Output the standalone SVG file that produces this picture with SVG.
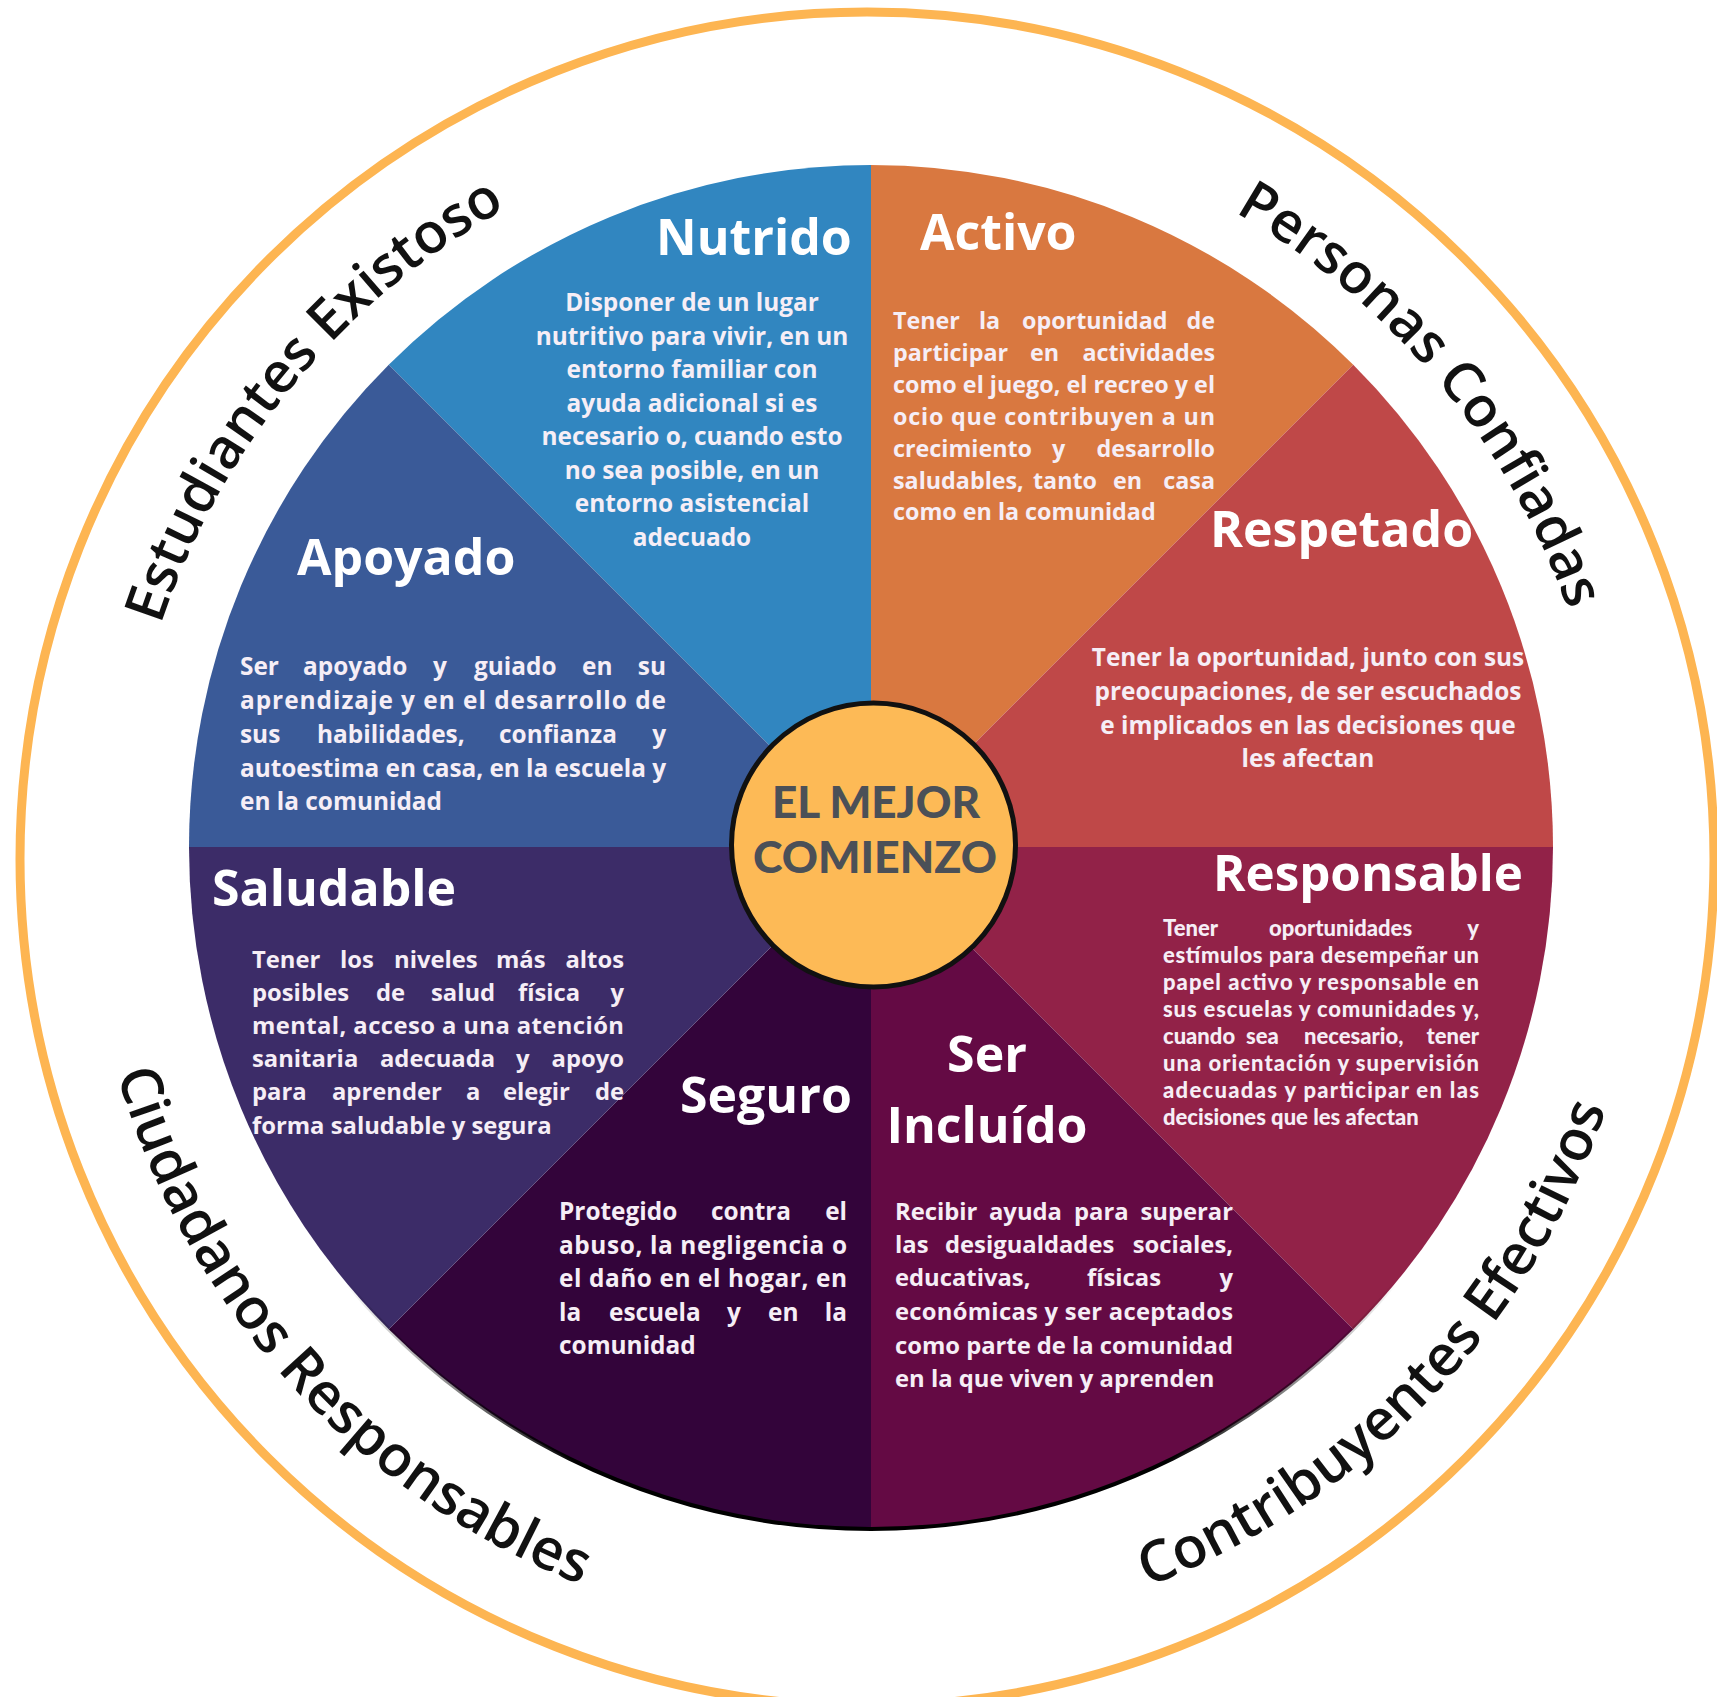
<svg xmlns="http://www.w3.org/2000/svg" width="1717" height="1697" viewBox="0 0 1717 1697">
<defs>
<style>
.t{font-family:"Open Sans","DejaVu Sans",sans-serif;font-weight:700;font-size:50px;fill:#ffffff}
.b{font-family:"Open Sans","DejaVu Sans",sans-serif;font-weight:700;font-size:24.4px;fill:#f6eef6}
.bs{font-size:23.3px}
.bm{font-size:23.8px}
.br{font-family:Lato,"Open Sans",sans-serif;font-weight:900;font-size:22px;fill:#f6eef6}
.e{text-anchor:end}
.m{text-anchor:middle}
.c{font-family:"Open Sans","DejaVu Sans",sans-serif;font-weight:600;font-size:56px;fill:#111111}
.cb{font-size:57px}
.ctr{font-family:Lato,"Open Sans",sans-serif;font-weight:900;font-size:43px;fill:#4b5057}
</style>
<path id="arcTop" d="M 123,859 A 744,744 0 0 1 1611,859"/>
<path id="arcBot" d="M 87,859 A 780,780 0 0 0 1647,859"/>
<linearGradient id="shade" gradientUnits="userSpaceOnUse" x1="345" y1="0" x2="1397" y2="0">
<stop offset="0" stop-color="#000" stop-opacity="0"/>
<stop offset="0.22" stop-color="#000" stop-opacity="1"/>
<stop offset="0.78" stop-color="#000" stop-opacity="1"/>
<stop offset="1" stop-color="#000" stop-opacity="0"/>
</linearGradient>
</defs>
<rect width="1717" height="1697" fill="#ffffff"/>

<g id="outer-ring">
<circle cx="867" cy="859" r="847" fill="none" stroke="#fdb552" stroke-width="9"/>
</g>

<g id="ring-labels">
<text class="c"><textPath href="#arcTop" startOffset="238">Estudiantes Existoso</textPath></text>
<text class="c"><textPath href="#arcTop" startOffset="1553">Personas Confiadas</textPath></text>
<text class="c cb"><textPath href="#arcBot" startOffset="217">Ciudadanos Responsables</textPath></text>
<text class="c cb"><textPath href="#arcBot" startOffset="1512">Contribuyentes Efectivos</textPath></text>
</g>

<g id="nutrido">
<path d="M 871,847 L 388.75,364.75 A 682,682 0 0 1 871,165 Z" fill="#3186c0"/>
<text class="t" x="656" y="255">Nutrido</text>
<g class="b m">
<text x="692" y="311">Disponer de un lugar</text>
<text x="692" y="344.5">nutritivo para vivir, en un</text>
<text x="692" y="378">entorno familiar con</text>
<text x="692" y="411.5">ayuda adicional si es</text>
<text x="692" y="445">necesario o, cuando esto</text>
<text x="692" y="478.5">no sea posible, en un</text>
<text x="692" y="512">entorno asistencial</text>
<text x="692" y="545.5">adecuado</text>
</g>
</g>

<g id="activo">
<path d="M 871,847 L 871,165 A 682,682 0 0 1 1353.25,364.75 Z" fill="#d97840"/>
<text class="t" x="920" y="250">Activo</text>
<g class="b bs">
<text x="893" y="329">Tener</text><text x="979" y="329">la</text><text x="1022" y="329">oportunidad</text><text class="e" x="1215" y="329">de</text>
<text x="893" y="361">participar</text><text x="1030" y="361">en</text><text class="e" x="1215" y="361">actividades</text>
<text x="893" y="393" textLength="322" lengthAdjust="spacing">como el juego, el recreo y el</text>
<text x="893" y="425" textLength="322" lengthAdjust="spacing">ocio que contribuyen a un</text>
<text x="893" y="457">crecimiento</text><text x="1052" y="457">y</text><text class="e" x="1215" y="457">desarrollo</text>
<text x="893" y="489">saludables,</text><text x="1033" y="489">tanto</text><text x="1113" y="489">en</text><text class="e" x="1215" y="489">casa</text>
<text x="893" y="520">como en la comunidad</text>
</g>
</g>

<g id="respetado">
<path d="M 871,847 L 1353.25,364.75 A 682,682 0 0 1 1553,847 Z" fill="#bf4848"/>
<text class="t" x="1210" y="547">Respetado</text>
<g class="b m">
<text x="1308" y="666">Tener la oportunidad, junto con sus</text>
<text x="1308" y="700">preocupaciones, de ser escuchados</text>
<text x="1308" y="734">e implicados en las decisiones que</text>
<text x="1308" y="767">les afectan</text>
</g>
</g>

<g id="responsable">
<path d="M 871,847 L 1553,847 A 682,682 0 0 1 1353.25,1329.25 Z" fill="#922248"/>
<text class="t" x="1213" y="891" style="font-size:49.3px">Responsable</text>
<g class="br">
<text x="1163" y="936">Tener</text><text x="1269" y="936">oportunidades</text><text class="e" x="1479" y="936">y</text>
<text x="1163" y="963" textLength="316" lengthAdjust="spacing">estímulos para desempeñar un</text>
<text x="1163" y="990" textLength="316" lengthAdjust="spacing">papel activo y responsable en</text>
<text x="1163" y="1017" textLength="316" lengthAdjust="spacing">sus escuelas y comunidades y,</text>
<text x="1163" y="1044">cuando</text><text x="1246" y="1044">sea</text><text x="1304" y="1044">necesario,</text><text class="e" x="1479" y="1044">tener</text>
<text x="1163" y="1071" textLength="316" lengthAdjust="spacing">una orientación y supervisión</text>
<text x="1163" y="1098" textLength="316" lengthAdjust="spacing">adecuadas y participar en las</text>
<text x="1163" y="1125">decisiones que les afectan</text>
</g>
</g>

<g id="ser-incluido">
<path d="M 871,847 L 1353.25,1329.25 A 682,682 0 0 1 871,1529 Z" fill="#640a44"/>
<text class="t m" x="987" y="1072">Ser</text>
<text class="t m" x="987" y="1143">Incluído</text>
<g class="b bm">
<text x="895" y="1220">Recibir</text><text x="989" y="1220">ayuda</text><text x="1074" y="1220">para</text><text class="e" x="1233" y="1220">superar</text>
<text x="895" y="1253">las</text><text x="945" y="1253">desigualdades</text><text class="e" x="1233" y="1253">sociales,</text>
<text x="895" y="1286">educativas,</text><text x="1087" y="1286">físicas</text><text class="e" x="1233" y="1286">y</text>
<text x="895" y="1320" textLength="338" lengthAdjust="spacing">económicas y ser aceptados</text>
<text x="895" y="1354" textLength="338" lengthAdjust="spacing">como parte de la comunidad</text>
<text x="895" y="1387">en la que viven y aprenden</text>
</g>
</g>

<g id="seguro">
<path d="M 871,847 L 871,1529 A 682,682 0 0 1 388.75,1329.25 Z" fill="#33043a"/>
<text class="t" x="680" y="1113">Seguro</text>
<g class="b">
<text x="559" y="1220">Protegido</text><text x="711" y="1220">contra</text><text class="e" x="847" y="1220">el</text>
<text x="559" y="1254" textLength="288" lengthAdjust="spacing">abuso, la negligencia o</text>
<text x="559" y="1287" textLength="288" lengthAdjust="spacing">el daño en el hogar, en</text>
<text x="559" y="1321">la</text><text x="609" y="1321">escuela</text><text x="727" y="1321">y</text><text x="768" y="1321">en</text><text class="e" x="847" y="1321">la</text>
<text x="559" y="1354">comunidad</text>
</g>
</g>

<g id="saludable">
<path d="M 871,847 L 388.75,1329.25 A 682,682 0 0 1 189,847 Z" fill="#3c2c68"/>
<text class="t" x="212" y="906">Saludable</text>
<g class="b bm">
<text x="252" y="968">Tener</text><text x="340" y="968">los</text><text x="394" y="968">niveles</text><text x="496" y="968">más</text><text class="e" x="624" y="968">altos</text>
<text x="252" y="1001">posibles</text><text x="376" y="1001">de</text><text x="431" y="1001">salud</text><text x="518" y="1001">física</text><text class="e" x="624" y="1001">y</text>
<text x="252" y="1034" textLength="372" lengthAdjust="spacing">mental, acceso a una atención</text>
<text x="252" y="1067">sanitaria</text><text x="380" y="1067">adecuada</text><text x="516" y="1067">y</text><text class="e" x="624" y="1067">apoyo</text>
<text x="252" y="1100">para</text><text x="332" y="1100">aprender</text><text x="466" y="1100">a</text><text x="503" y="1100">elegir</text><text class="e" x="624" y="1100">de</text>
<text x="252" y="1134">forma saludable y segura</text>
</g>
</g>

<g id="apoyado">
<path d="M 871,847 L 189,847 A 682,682 0 0 1 388.75,364.75 Z" fill="#3a5a98"/>
<text class="t" x="297" y="575">Apoyado</text>
<g class="b">
<text x="240" y="675">Ser</text><text x="303" y="675">apoyado</text><text x="433" y="675">y</text><text x="474" y="675">guiado</text><text x="582" y="675">en</text><text class="e" x="666" y="675">su</text>
<text x="240" y="709" textLength="426" lengthAdjust="spacing">aprendizaje y en el desarrollo de</text>
<text x="240" y="743">sus</text><text x="317" y="743">habilidades,</text><text x="499" y="743">confianza</text><text class="e" x="666" y="743">y</text>
<text x="240" y="777" textLength="426" lengthAdjust="spacing">autoestima en casa, en la escuela y</text>
<text x="240" y="810">en la comunidad</text>
</g>
</g>

<g id="wheel-edge">
<path d="M 1393.4,1285.4 A 682,682 0 0 1 348.6,1285.4" fill="none" stroke="url(#shade)" stroke-width="4"/>
</g>

<g id="el-mejor-comienzo">
<circle cx="873.5" cy="845" r="142" fill="#fdba56" stroke="#111111" stroke-width="5"/>
<text class="ctr m" x="876" y="818" textLength="208" lengthAdjust="spacingAndGlyphs">EL MEJOR</text>
<text class="ctr m" x="875" y="873" textLength="244" lengthAdjust="spacingAndGlyphs">COMIENZO</text>
</g>

<g id="connectors"></g>
</svg>
